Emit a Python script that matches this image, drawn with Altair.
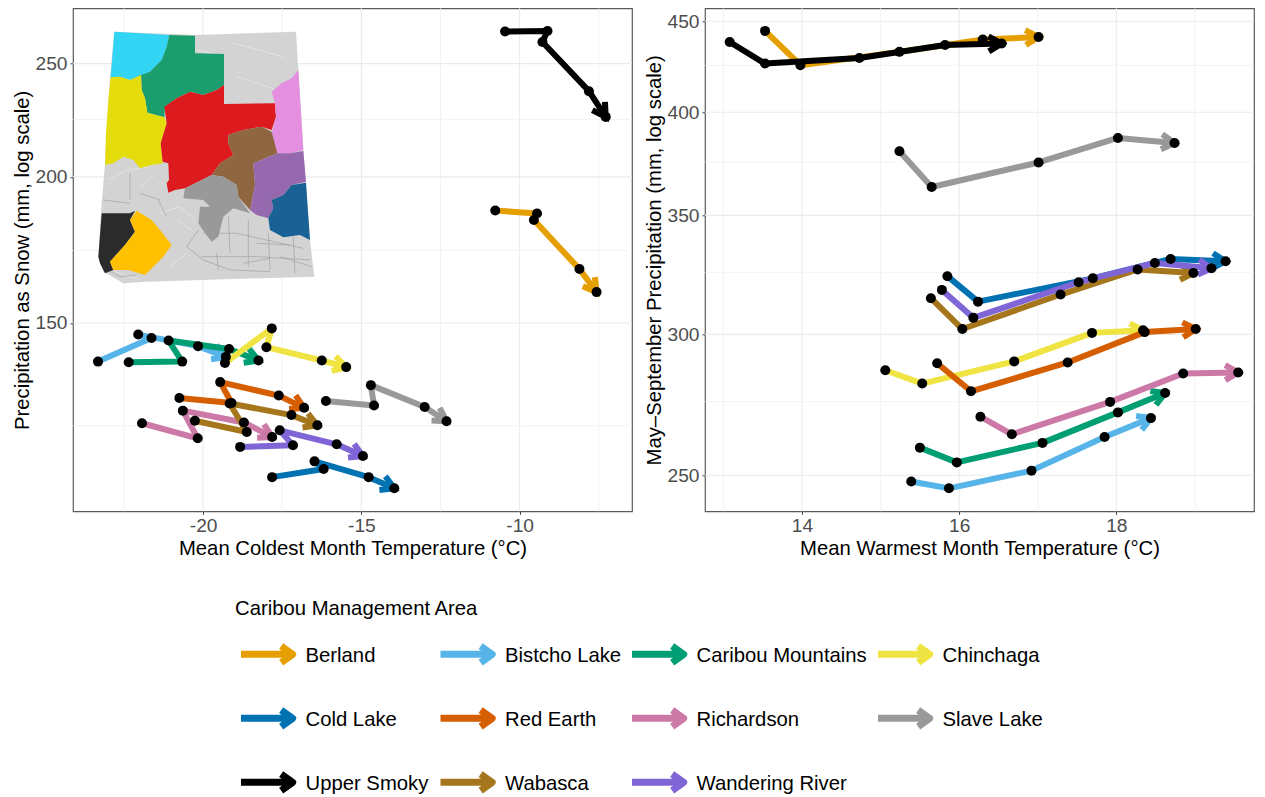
import math
import altair as alt
import pandas as pd

# ---------- data ----------
areas = ["Berland", "Bistcho Lake", "Caribou Mountains", "Chinchaga", "Cold Lake", "Red Earth",
         "Richardson", "Slave Lake", "Upper Smoky", "Wabasca", "Wandering River"]
area_colors = ["#E69F00", "#56B4E9", "#009E73", "#F0E442", "#0072B2", "#D55E00",
               "#CC79A7", "#999999", "#000000", "#A6761D", "#7F65D6"]

berland_mct = [-10.77, -9.45, -9.55, -8.11, -7.57]
berland_pas = [187.2, 186.1, 183.7, 166.8, 159.4]
bistcho_mct = [-23.32, -21.63, -22.05, -20.16, -19.28]
bistcho_pas = [139.0, 145.6, 146.6, 143.3, 140.3]
caribou_mct = [-22.35, -20.66, -21.09, -19.18, -18.25]
caribou_pas = [138.8, 139.0, 144.9, 142.5, 139.3]
chinchaga_mct = [-19.31, -17.83, -18.00, -16.25, -15.48]
chinchaga_pas = [138.6, 148.4, 143.0, 139.3, 137.5]
cold_mct = [-17.82, -16.19, -16.48, -14.77, -13.96]
cold_pas = [110.7, 112.5, 114.2, 110.7, 108.3]
redearth_mct = [-20.75, -19.10, -19.46, -17.61, -16.81]
redearth_pas = [129.4, 128.1, 133.5, 130.0, 126.9]
richardson_mct = [-21.93, -20.17, -20.64, -18.71, -17.82]
richardson_pas = [123.1, 119.5, 126.2, 123.3, 119.8]
slave_mct = [-16.12, -14.60, -14.70, -13.00, -12.31]
slave_pas = [128.6, 127.5, 132.7, 127.1, 123.6]
smoky_mct = [-10.46, -9.12, -9.28, -7.81, -7.28]
smoky_pas = [266.3, 266.6, 260.9, 236.8, 225.1]
wabasca_mct = [-20.26, -18.62, -19.16, -17.21, -16.39]
wabasca_pas = [123.7, 121.0, 128.0, 125.1, 122.6]
wandering_mct = [-18.83, -17.16, -17.58, -15.78, -14.95]
wandering_pas = [117.5, 117.9, 121.4, 118.1, 115.4]

berland_mwt = [13.53, 13.98, 15.24, 16.30, 17.01]
berland_msp = [444.4, 425.1, 432.5, 439.5, 440.9]
bistcho_mwt = [15.39, 15.87, 16.92, 17.85, 18.44]
bistcho_msp = [248.0, 245.8, 251.5, 262.7, 269.2]
caribou_mwt = [15.50, 15.97, 17.06, 18.02, 18.62]
caribou_msp = [259.1, 254.2, 260.7, 271.2, 278.1]
chinchaga_mwt = [15.06, 15.53, 16.70, 17.69, 18.34]
chinchaga_msp = [286.4, 281.5, 289.7, 300.6, 301.6]
cold_mwt = [15.85, 16.24, 17.70, 18.69, 19.39]
cold_msp = [323.5, 313.0, 322.6, 330.8, 329.8]
redearth_mwt = [15.72, 16.15, 17.38, 18.36, 19.01]
redearth_msp = [289.0, 278.7, 289.3, 300.9, 302.1]
richardson_mwt = [16.27, 16.67, 17.92, 18.85, 19.55]
richardson_msp = [269.7, 263.6, 274.9, 285.2, 285.6]
slave_mwt = [15.24, 15.65, 17.01, 18.02, 18.74]
slave_msp = [380.3, 363.1, 374.8, 386.9, 384.4]
smoky_mwt = [13.08, 13.53, 14.73, 15.82, 16.54]
smoky_msp = [438.1, 426.0, 429.1, 436.4, 437.2]
wabasca_mwt = [15.64, 16.04, 17.29, 18.27, 18.98]
wabasca_msp = [314.4, 302.1, 315.9, 326.3, 324.8]
wandering_mwt = [15.78, 16.18, 17.52, 18.49, 19.21]
wandering_msp = [317.8, 306.5, 321.0, 329.1, 326.8]

left_x = [berland_mct, bistcho_mct, caribou_mct, chinchaga_mct, cold_mct, redearth_mct,
          richardson_mct, slave_mct, smoky_mct, wabasca_mct, wandering_mct]
left_y = [berland_pas, bistcho_pas, caribou_pas, chinchaga_pas, cold_pas, redearth_pas,
          richardson_pas, slave_pas, smoky_pas, wabasca_pas, wandering_pas]
right_x = [berland_mwt, bistcho_mwt, caribou_mwt, chinchaga_mwt, cold_mwt, redearth_mwt,
           richardson_mwt, slave_mwt, smoky_mwt, wabasca_mwt, wandering_mwt]
right_y = [berland_msp, bistcho_msp, caribou_msp, chinchaga_msp, cold_msp, redearth_msp,
           richardson_msp, slave_msp, smoky_msp, wabasca_msp, wandering_msp]

# axis set-up
left_xdomain = [-24.11, -6.45]
left_ydomain = [103.5, 278.8]
left_xticks = [-20, -15, -10]
left_xminor = [-22.5, -17.5, -12.5, -7.5]
left_yticks = [150, 200, 250]
left_yminor = [122.5, 173, 224]
right_xdomain = [12.766, 19.751]
right_ydomain = [238.6, 457.6]
right_xticks = [14, 16, 18]
right_xminor = [13, 15, 17, 19]
right_yticks = [250, 300, 350, 400, 450]
right_yminor = [275, 325, 375, 425]

# inset map, outlines in the inset's own picture units
map_base = [(133,95),(380,105),(678,95),(685,210),(700,450),(720,720),(733,830),(230,845),(160,850),
            (100,815),(85,770),(95,610),(105,490),(120,230)]
map_regions = [
    ("#33D5F5", [(133,95),(298,105),(290,140),(275,180),(240,215),(215,225),(180,240),(150,230),(122,232)]),
    ("#1A9E6E", [(298,105),(375,107),(375,160),(462,162),(462,255),(440,270),(400,285),(360,275),(320,295),
                 (285,320),(283,352),(232,338),(225,295),(215,270),(213,225),(240,215),(275,180),(290,140)]),
    ("#E5DC0C", [(122,232),(150,230),(180,240),(213,225),(215,270),(225,295),(232,338),(283,352),(290,370),
                 (272,430),(278,490),(245,495),(210,505),(190,480),(160,470),(130,490),(105,495),(108,400),(115,300)]),
    ("#DD1A1E", [(462,255),(462,312),(615,310),(618,350),(605,390),(575,380),(520,390),(475,405),(475,430),
                 (490,465),(450,490),(425,525),(385,545),(345,565),(315,570),(295,578),(290,550),(297,540),
                 (295,490),(278,485),(272,430),(290,370),(283,320),(320,295),(360,275),(400,285),(440,270)]),
    ("#E48FE0", [(685,210),(700,450),(660,460),(622,460),(605,400),(618,350),(615,310),(605,275),(635,250),(665,235)]),
    ("#8F6640", [(575,380),(605,395),(622,460),(550,490),(555,555),(540,630),(505,590),(500,555),(460,530),
                 (425,525),(450,490),(490,465),(475,430),(475,405),(520,390)]),
    ("#9668AE", [(622,460),(660,460),(700,453),(708,545),(665,555),(640,585),(605,600),(610,625),(595,655),
                 (560,645),(540,630),(555,555),(550,490)]),
    ("#1A6296", [(708,548),(720,720),(690,705),(640,712),(600,690),(595,655),(610,625),(605,600),(640,585),(665,555)]),
    ("#999999", [(425,525),(460,530),(500,555),(505,590),(540,640),(490,625),(460,650),(445,710),(425,725),
                 (405,700),(385,670),(390,620),(420,620),(400,600),(340,595),(345,565),(385,545)]),
    ("#2B2B2B", [(95,640),(180,640),(195,632),(180,660),(195,695),(165,735),(120,785),(130,810),(105,820),(90,790),(85,770)]),
    ("#FFC000", [(200,632),(245,660),(270,690),(305,735),(280,770),(225,825),(175,810),(130,810),(120,785),
                 (165,735),(195,695),(180,660)]),
]
map_roads = [
    [(395,770),(560,770),(720,780)], [(350,740),(400,780),(480,810),(600,815)], [(535,660),(535,800)],
    [(475,650),(480,760)], [(595,700),(600,810)], [(670,710),(675,820)], [(400,700),(500,700),(700,745)],
    [(560,730),(660,735)], [(520,790),(600,775)], [(630,770),(725,800)], [(440,760),(445,810)],
    [(100,600),(180,610)], [(180,520),(180,600)], [(210,580),(270,600)], [(265,600),(290,650)],
    [(120,815),(150,830),(200,825)], [(385,690),(350,740)],
]
map_ridges = [
    [(115,540),(170,510),(240,500)], [(210,560),(255,525)], [(270,640),(330,620),(375,660)],
    [(320,660),(365,690)], [(380,150),(430,160)], [(490,130),(640,170)], [(500,230),(620,270)],
    [(135,815),(210,840)], [(300,800),(350,760)],
]
map_origin = (9, 25)

legend_title = "Caribou Management Area"
legend_cols = [195.5, 395, 586.5, 832.5]
legend_row_y = [88, 152, 216]
legend_rows = [0, 1, 2]

FONT = "Liberation Sans"
LEFT_W, RIGHT_W, PLOT_H = 559, 549, 503
LW = 6
HEAD_PATH = "M-0.5,0.866L0,0L0.5,0.866"
HEAD_SIZE = (2 * 15) ** 2
LEGEND_ARROW = "M-1,0L0.88,0M0.46,-0.3L0.88,0L0.46,0.3"


def panel(xs, ys, xdom, ydom, xticks, xminor, yticks, yminor, xtitle, ytitle, plot_w, extra=None):
    xscale = alt.Scale(domain=xdom, nice=False, zero=False)
    yscale = alt.Scale(type="log", domain=ydom, nice=False)
    xaxis = alt.Axis(values=xticks, title=xtitle, labelExpr="datum.value + ''", grid=False, domain=False,
                     tickSize=3, labelPadding=2.5, titlePadding=3, labelFlush=False)
    yaxis = alt.Axis(values=yticks, title=ytitle, labelExpr="datum.value + ''", grid=False, domain=False,
                     tickSize=3, labelPadding=3, titlePadding=2)
    X = lambda f: alt.X(f, scale=xscale, axis=xaxis)
    Y = lambda f: alt.Y(f, scale=yscale, axis=yaxis)

    layers = []
    for vals, col, w in ((xminor, "#F0F0F0", 0.8), (xticks, "#EBEBEB", 1.1)):
        layers.append(alt.Chart(pd.DataFrame({"v": vals})).mark_rule(color=col, strokeWidth=w).encode(x=X("v:Q")))
    for vals, col, w in ((yminor, "#F0F0F0", 0.8), (yticks, "#EBEBEB", 1.1)):
        layers.append(alt.Chart(pd.DataFrame({"v": vals})).mark_rule(color=col, strokeWidth=w).encode(y=Y("v:Q")))
    if extra:
        layers.extend(extra)

    xk = plot_w / (xdom[1] - xdom[0])
    yk = PLOT_H / (math.log(ydom[1]) - math.log(ydom[0]))
    rows = []
    for name, col, xv, yv in zip(areas, area_colors, xs, ys):
        df = pd.DataFrame({"x": xv, "y": yv, "step": range(len(xv))})
        layers.append(alt.Chart(df).mark_line(color=col, strokeWidth=LW, strokeJoin="round").encode(
            x=X("x:Q"), y=Y("y:Q"), order="step:Q"))
        dx = (xv[-1] - xv[-2]) * xk
        dy = -(math.log(yv[-1]) - math.log(yv[-2])) * yk
        ang = math.degrees(math.atan2(dx, -dy)) % 360
        head = pd.DataFrame({"x": [xv[-1]], "y": [yv[-1]], "angle": [ang]})
        layers.append(alt.Chart(head).mark_point(shape=HEAD_PATH, size=HEAD_SIZE, filled=False, stroke=col,
                                                 strokeWidth=LW, opacity=1).encode(
            x=X("x:Q"), y=Y("y:Q"), angle=alt.Angle("angle:Q", scale=None)))
        rows.append(df)
    pts = pd.concat(rows)
    layers.append(alt.Chart(pts).mark_circle(color="black", size=100, opacity=1).encode(x=X("x:Q"), y=Y("y:Q")))
    return alt.layer(*layers).properties(width=plot_w, height=PLOT_H)


def to_path(pts, close=True):
    s = "M" + "L".join(f"{a - map_origin[0]},{b - map_origin[1]}" for a, b in pts)
    return s + ("Z" if close else "")


MAP_SIZE = (2 / 3) ** 2
map_x, map_y = alt.value(0), alt.value(0)
fills = pd.DataFrame({
    "path": [to_path(map_base)] + [to_path(p) for _, p in map_regions],
    "fill": ["#D3D3D3"] + [c for c, _ in map_regions],
    "k": range(len(map_regions) + 1),
})
roads = pd.DataFrame({"path": [to_path(p, False) for p in map_roads]})
ridges = pd.DataFrame({"path": [to_path(p, False) for p in map_ridges]})
map_layers = [
    alt.Chart(fills[fills.k == 0]).mark_point(filled=True, opacity=1, size=MAP_SIZE, strokeWidth=0).encode(
        x=map_x, y=map_y, shape=alt.Shape("path:N", scale=None), color=alt.Color("fill:N", scale=None)),
    alt.Chart(ridges).mark_point(filled=False, opacity=0.6, size=MAP_SIZE, stroke="#EFEFEF", strokeWidth=1).encode(
        x=map_x, y=map_y, shape=alt.Shape("path:N", scale=None)),
    alt.Chart(roads).mark_point(filled=False, opacity=1, size=MAP_SIZE, stroke="#9A9A9A", strokeWidth=0.6).encode(
        x=map_x, y=map_y, shape=alt.Shape("path:N", scale=None)),
    alt.Chart(fills[fills.k > 0]).mark_point(filled=True, opacity=1, size=MAP_SIZE, strokeWidth=0).encode(
        x=map_x, y=map_y, shape=alt.Shape("path:N", scale=None), color=alt.Color("fill:N", scale=None)),
]

left = panel(left_x, left_y, left_xdomain, left_ydomain, left_xticks, left_xminor, left_yticks, left_yminor,
             "Mean Coldest Month Temperature (°C)", "Precipitation as Snow (mm, log scale)", LEFT_W, map_layers)
right = panel(right_x, right_y, right_xdomain, right_ydomain, right_xticks, right_xminor, right_yticks, right_yminor,
              "Mean Warmest Month Temperature (°C)", "May–September Precipitation (mm, log scale)", RIGHT_W)

# legend panel
n_cols = len(legend_cols)
leg = pd.DataFrame({
    "area": areas,
    "color": area_colors,
    "col": [i % n_cols for i in range(len(areas))],
    "row": [i // n_cols for i in range(len(areas))],
})
LEG_W, LEG_H = 1000, 222
lx = alt.X("col:Q", scale=alt.Scale(domain=list(range(n_cols)), range=legend_cols, nice=False, zero=False), axis=None)
ly = alt.Y("row:Q", scale=alt.Scale(domain=legend_rows, range=legend_row_y, nice=False, zero=False), axis=None)
legend_panel = alt.layer(
    alt.Chart(pd.DataFrame({"t": [legend_title]})).mark_text(align="left", baseline="middle", fontSize=20.3, font=FONT, color="black").encode(
        text="t:N", x=alt.value(162), y=alt.value(43)),
    alt.Chart(leg).mark_point(shape=LEGEND_ARROW, size=55 ** 2, filled=False, strokeWidth=7, opacity=1, strokeJoin="round").encode(
        x=lx, y=ly, stroke=alt.Stroke("color:N", scale=None)),
    alt.Chart(leg).mark_text(align="left", baseline="middle", dx=37, dy=2, fontSize=20.3, font=FONT, color="black").encode(
        x=lx, y=ly, text="area:N"),
).properties(width=LEG_W, height=LEG_H, view=alt.ViewBackground(stroke="transparent"))

top = alt.hconcat(left, right, spacing=10)
chart = alt.vconcat(top, legend_panel, spacing=5).properties(
    padding={"left": 4, "top": -1.7, "right": 0, "bottom": 0}
).configure_view(stroke="#5A5A5A", strokeWidth=1.2).configure_axis(
    labelFont=FONT, titleFont=FONT, labelFontSize=19.2, titleFontSize=20.3, labelColor="#4D4D4D",
    titleColor="black", titleFontWeight="normal", tickColor="#444444",
).configure_concat(spacing=0)

chart.save("out.html", embed_options={"renderer": "svg", "actions": False})
